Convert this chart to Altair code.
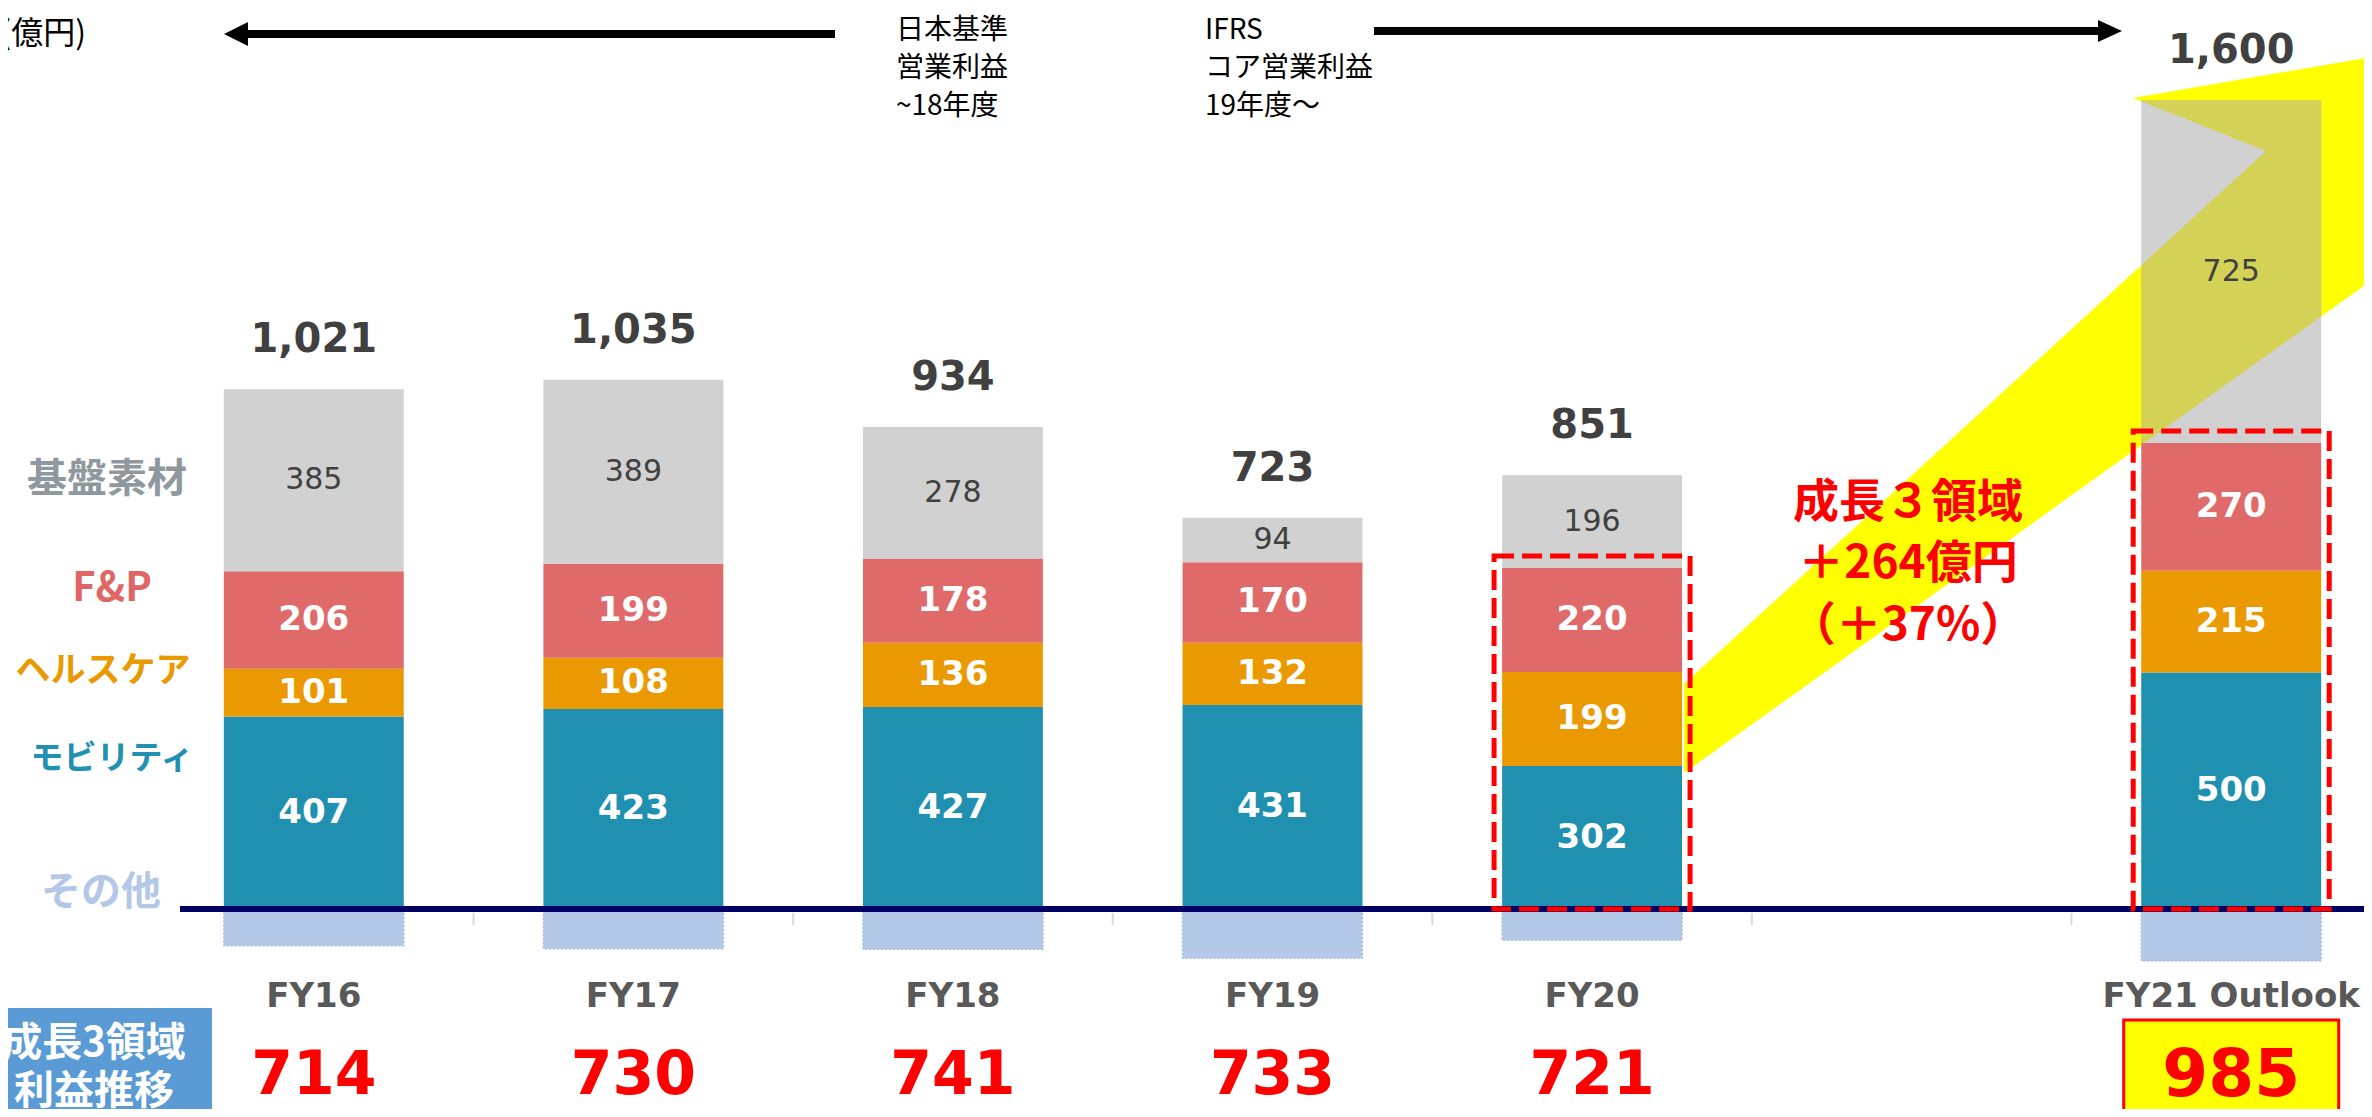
import altair as alt
import pandas as pd

# ---------------- data ----------------
years = ["FY16", "FY17", "FY18", "FY19", "FY20", "FY21 Outlook"]
slots = ["FY16", "FY17", "FY18", "FY19", "FY20", "", "FY21 Outlook"]
mobility = [407, 423, 427, 431, 302, 500]
healthcare = [101, 108, 136, 132, 199, 215]
fp = [206, 199, 178, 170, 220, 270]
basic = [385, 389, 278, 94, 196, 725]
totals = [1021, 1035, 934, 723, 851, 1600]
growth3 = [714, 730, 741, 733, 721, 985]
segments = ["モビリティ", "ヘルスケア", "F&P", "基盤素材", "その他"]
highlight_years = ["FY20", "FY21 Outlook"]
unit_label = "(億円)"
basis_old = ["日本基準", "営業利益", "~18年度"]
basis_new = ["IFRS", "コア営業利益", "19年度～"]
callout = ["成長３領域", "＋264億円", "（＋37%）"]
row_title = ["成長3領域", "利益推移"]

# ---------------- style / layout ----------------
seg_colors = ["#2090B1", "#EA9A00", "#E06A6A", "#D1D1D1", "#B4C8E8"]
label_colors = ["#2290B1", "#E99A00", "#E06666", "#8E989E", "#B4C7E7"]
label_pos = [(112, 759, 33), (103, 671, 35), (112, 589, 40), (107, 480, 40), (101, 893, 40)]
JP = "Noto Sans CJK JP"
NUM = "DejaVu Sans"
W, H = 2356, 1101
M = 8  # page margin
X_RANGE = [146, 2383]
PAD_IN, PAD_OUT = 0.437, 0.2185
Y_DOM = [-423, 1905]


def P(v):
    return v - M


xs = alt.Scale(domain=slots, range=X_RANGE, paddingInner=PAD_IN, paddingOuter=PAD_OUT)
ys = alt.Scale(domain=Y_DOM)


def X():
    return alt.X("year:N", scale=xs, axis=None)


def Yq(f):
    return alt.Y(f"{f}:Q", scale=ys, axis=None, stack=None)


# ---------------- tables built from the arrays ----------------
rows = []
tops = []
for i, yr in enumerate(years):
    base = 0
    for seg, vals in zip(segments[:4], [mobility, healthcare, fp, basic]):
        v = vals[i]
        rows.append(dict(year=yr, segment=seg, value=v, y0=base, y1=base + v, mid=base + v / 2))
        base += v
    tops.append(base)
    other = totals[i] - base
    rows.append(dict(year=yr, segment="その他", value=other, y0=0, y1=other, mid=other / 2))
df_seg = pd.DataFrame(rows)
df_year = pd.DataFrame({"year": years, "total": totals, "growth": growth3, "top": tops})
df_ticks = pd.DataFrame({"year": slots[1:]})

color = alt.Color("segment:N", scale=alt.Scale(domain=segments, range=seg_colors), legend=None)


# ---------------- decoration geometry (page pixels) ----------------
def ring_of(pts):
    return [[P(x), P(y)] for x, y in pts]


def feature(ring):
    ring = list(ring) + [ring[0]]
    return {"type": "Feature", "properties": {}, "geometry": {"type": "Polygon", "coordinates": [ring]}}


def clip(poly, x0, x1, y0, y1):
    def clip_edge(pts, inside, inter):
        out = []
        n = len(pts)
        for k in range(n):
            a, b = pts[k - 1], pts[k]
            ia, ib = inside(a), inside(b)
            if ib:
                if not ia:
                    out.append(inter(a, b))
                out.append(b)
            elif ia:
                out.append(inter(a, b))
        return out

    def ix(xc):
        return lambda a, b: [xc, a[1] + (b[1] - a[1]) * (xc - a[0]) / (b[0] - a[0])]

    def iy(yc):
        return lambda a, b: [a[0] + (b[0] - a[0]) * (yc - a[1]) / (b[1] - a[1]), yc]

    pts = poly
    pts = clip_edge(pts, lambda p: p[0] >= x0, ix(x0))
    pts = clip_edge(pts, lambda p: p[0] <= x1, ix(x1))
    pts = clip_edge(pts, lambda p: p[1] >= y0, iy(y0))
    pts = clip_edge(pts, lambda p: p[1] <= y1, iy(y1))
    return pts


yellow_pts = [(1684, 684), (2266, 151), (2133, 98), (2470, 40), (2470, 230), (2372, 280), (1684, 773)]
arrow_left = [(224, 34), (248, 22), (248, 30), (835, 30), (835, 38), (248, 38), (248, 46)]
arrow_right = [(2122, 31), (2098, 20), (2098, 27), (1374, 27), (1374, 35), (2098, 35), (2098, 42)]

# FY21 grey segment rectangle (same geometry as the scales) for the tinted overlap
step = (X_RANGE[1] - X_RANGE[0]) / (len(slots) - PAD_IN + 2 * PAD_OUT)
bw = step * (1 - PAD_IN)
i21 = slots.index("FY21 Outlook")
bx0 = X_RANGE[0] + step * PAD_OUT + i21 * step
bx1 = bx0 + bw


def ypix(v):
    return H * (Y_DOM[1] - v) / (Y_DOM[1] - Y_DOM[0])


j = years.index("FY21 Outlook")
g_top = ypix(tops[j])
g_bot = ypix(tops[j] - basic[j])
yellow_ring = ring_of(yellow_pts)
tint_ring = clip(yellow_ring, bx0, bx1, g_top, g_bot)

layers = []

# yellow growth arrow (behind bars)
layers.append(
    alt.Chart(alt.Data(values=[feature(yellow_ring)]))
    .mark_geoshape(fill="#FFFF00", strokeWidth=0)
    .project(type="identity", scale=1, translate=[0, 0])
)

# positive stacked bars
layers.append(
    alt.Chart(df_seg[df_seg.segment != "その他"])
    .mark_bar()
    .encode(x=X(), y=Yq("y1"), y2=alt.Y2("y0:Q"), color=color)
)
# negative "その他"
layers.append(
    alt.Chart(df_seg[df_seg.segment == "その他"])
    .mark_bar(stroke="#A8BCE0", strokeWidth=1.5, strokeDash=[2, 2])
    .encode(x=X(), y=Yq("y1"), y2=alt.Y2("y0:Q"), color=color)
)

# tinted overlap of the arrow with the FY21 grey segment
layers.append(
    alt.Chart(alt.Data(values=[feature(tint_ring)]))
    .mark_geoshape(fill="#D3D257", strokeWidth=0)
    .project(type="identity", scale=1, translate=[0, 0])
)

# black period arrows
layers.append(
    alt.Chart(alt.Data(values=[feature(ring_of(arrow_left)), feature(ring_of(arrow_right))]))
    .mark_geoshape(fill="#000000", strokeWidth=0)
    .project(type="identity", scale=1, translate=[0, 0])
)

# baseline and ticks
layers.append(
    alt.Chart(pd.DataFrame({"v": [0]}))
    .mark_rule(color="#000066", strokeWidth=6)
    .encode(y=Yq("v"), x=alt.value(P(180)), x2=alt.value(W + 10))
)
layers.append(
    alt.Chart(df_ticks)
    .mark_rule(color="#D9D9D9", strokeWidth=2, xOffset=-step / 2)
    .encode(x=X(), y=alt.value(P(913)), y2=alt.value(P(925)))
)

# red dashed boxes
layers.append(
    alt.Chart(df_year[df_year.year.isin(highlight_years)])
    .mark_bar(size=196, fillOpacity=0, stroke="#FF0000", strokeWidth=5, strokeDash=[20, 8],
              yOffset=-12, y2Offset=-4)
    .encode(x=X(), y=Yq("growth"))
)

# segment labels
layers.append(
    alt.Chart(df_seg[df_seg.segment.isin(segments[:3])])
    .mark_text(font=NUM, fontWeight="bold", fontSize=34, color="#FFFFFF", baseline="middle")
    .encode(x=X(), y=Yq("mid"), text="value:Q")
)
layers.append(
    alt.Chart(df_seg[df_seg.segment == "基盤素材"])
    .mark_text(font=NUM, fontSize=30, color="#404040", baseline="middle")
    .encode(x=X(), y=Yq("mid"), text="value:Q")
)

# totals
layers.append(
    alt.Chart(df_year)
    .mark_text(font=NUM, fontWeight="bold", fontSize=40, color="#404040", baseline="middle", dy=-49)
    .encode(x=X(), y=Yq("top"), text=alt.Text("total:Q", format=","))
)

# category labels
layers.append(
    alt.Chart(df_year)
    .mark_text(font=NUM, fontWeight="bold", fontSize=34, color="#595959", baseline="middle")
    .encode(x=X(), y=alt.value(P(997)), text="year:N")
)

# yellow box behind FY21 growth figure
layers.append(
    alt.Chart(df_year[df_year.year == "FY21 Outlook"])
    .mark_bar(size=215, fill="#FFFF00", stroke="#FF0000", strokeWidth=3)
    .encode(x=X(), y=alt.value(P(1020)), y2=alt.value(H + 20))
)
# growth figures
layers.append(
    alt.Chart(df_year)
    .mark_text(font=NUM, fontWeight="bold", color="#FF0000", baseline="middle")
    .encode(
        x=X(),
        y=alt.value(P(1076)),
        text="growth:Q",
        size=alt.condition("datum.year == 'FY21 Outlook'", alt.value(66), alt.value(60)),
    )
)

# blue row-title box
layers.append(
    alt.Chart(pd.DataFrame({"v": [0]}))
    .mark_rect(color="#5B9BD5")
    .encode(x=alt.value(-10), x2=alt.value(P(212)), y=alt.value(P(1008)), y2=alt.value(H + 20))
)
for txt, yy in zip(row_title, [1044, 1092]):
    layers.append(
        alt.Chart(pd.DataFrame({"v": [0]}))
        .mark_text(text=txt, font=JP, fontWeight="bold", fontSize=40, color="#FFFFFF", baseline="middle")
        .encode(x=alt.value(P(94)), y=alt.value(P(yy)))
    )

# left segment legend labels
for seg, col, (lx, ly, fs) in zip(segments, label_colors, label_pos):
    layers.append(
        alt.Chart(pd.DataFrame({"v": [0]}))
        .mark_text(text=seg, font=JP, fontWeight="bold", fontSize=fs, color=col, baseline="middle")
        .encode(x=alt.value(P(lx)), y=alt.value(P(ly)))
    )

# unit label
layers.append(
    alt.Chart(pd.DataFrame({"v": [0]}))
    .mark_text(text=unit_label, font=JP, fontSize=32, color="#000000", align="right", baseline="middle")
    .encode(x=alt.value(P(86)), y=alt.value(P(34)))
)

# accounting basis notes
for lines, lx in [(basis_old, 896), (basis_new, 1205)]:
    for txt, yy in zip(lines, [31, 69, 107]):
        layers.append(
            alt.Chart(pd.DataFrame({"v": [0]}))
            .mark_text(text=txt, font=JP, fontSize=28, color="#000000", align="left", baseline="middle")
            .encode(x=alt.value(P(lx)), y=alt.value(P(yy)))
        )

# growth callout
for txt, yy in zip(callout, [503, 564, 626]):
    layers.append(
        alt.Chart(pd.DataFrame({"v": [0]}))
        .mark_text(text=txt, font=JP, fontWeight="bold", fontSize=46, color="#FF0000", baseline="middle")
        .encode(x=alt.value(P(1908)), y=alt.value(P(yy)))
    )

chart = (
    alt.layer(*layers)
    .properties(width=W, height=H, padding=0, autosize=alt.AutoSizeParams(type="none"))
    .configure_view(strokeWidth=0)
)

chart.save("out.html", embed_options={"renderer": "svg", "actions": False})
